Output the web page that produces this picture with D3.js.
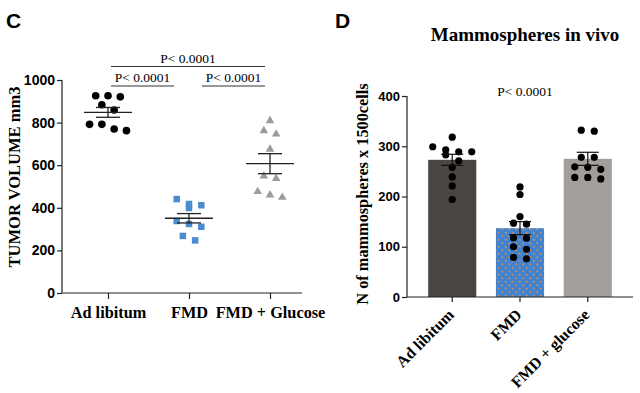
<!DOCTYPE html>
<meta charset="utf-8">
<style>
  body { margin: 0; background: #fff; }
  svg text { fill: #000; }
  .serif { font-family: "Liberation Serif", "DejaVu Serif", serif; }
  .sans { font-family: "Liberation Sans", Arial, sans-serif; }
</style>
<div id="viz_area"></div>
<script src="https://d3js.org/d3.v7.min.js"></script>
<script>
    // panel C data: tumor volume (mm3), one value per mouse
    var groupsC = ["Ad libitum", "FMD", "FMD + Glucose"];
    var adLibC = [926, 921, 926, 884, 859, 792, 792, 762, 770];
    var fmdC = [441, 399, 412, 418, 338, 324, 311, 268, 247];
    var glucC = [809, 746, 762, 675, 549, 538, 449, 476, 460];
    var semC = [23, 22, 47];
    var ticksC = [0, 200, 400, 600, 800, 1000];

    // panel D data: mammospheres per 1500 cells
    var groupsD = ["Ad libitum", "FMD", "FMD + glucose"];
    var barsD = [273, 137, 275];
    var semD = [11, 13, 13];
    var adLibD = [318, 289, 293, 299, 289, 271, 283, 258, 239, 221, 194];
    var fmdD = [219, 204, 160, 145, 147, 117, 118, 95, 100, 76, 79];
    var glucD = [330, 332, 278, 278, 259, 254, 258, 235, 238, 238];
    var ticksD = [0, 100, 200, 300, 400];

    var svg = d3.select("#viz_area").append("svg")
        .attr("width", 640).attr("height", 393);

    // pattern for the FMD bar: orange dots on blue
    var pat = svg.append("defs").append("pattern")
        .attr("id", "dots").attr("patternUnits", "userSpaceOnUse")
        .attr("width", 7).attr("height", 7);
    pat.append("rect").attr("width", 7).attr("height", 7).attr("fill", "#3f83d1");
    pat.append("circle").attr("cx", 1.75).attr("cy", 1.75).attr("r", 1.1).attr("fill", "#c98a5e");
    pat.append("circle").attr("cx", 5.25).attr("cy", 5.25).attr("r", 1.1).attr("fill", "#c98a5e");

    // GraphPad-like scatter: points of similar value share a row, centred
    function swarm(values, y, rowPx, step) {
        var sorted = values.slice().sort(function(a, b) { return b - a; });
        var rows = [], out = [];
        sorted.forEach(function(v) {
            var r = rows[rows.length - 1];
            if (r && Math.abs(y(r[0]) - y(v)) < rowPx) r.push(v);
            else rows.push([v]);
        });
        rows.forEach(function(r) {
            r.forEach(function(v, i) {
                out.push({v: v, dx: (i - (r.length - 1) / 2) * step});
            });
        });
        return out;
    }

    // ---------- panel C ----------
    var yC = d3.scaleLinear().domain([0, 1000]).range([293, 80]);
    var xC = d3.scalePoint().domain(groupsC).range([108, 270]);
    var gC = svg.append("g");

    gC.append("text").attr("class", "sans").attr("x", 6).attr("y", 28)
        .attr("font-size", 21).attr("font-weight", "bold").text("C");

    var axC = gC.append("g").attr("transform", "translate(62,0)")
        .call(d3.axisLeft(yC).tickValues(ticksC).tickFormat(d3.format("d")).tickSize(5).tickPadding(2));
    axC.select(".domain").attr("d", "M0," + yC(0) + "V" + yC(1000));
    axC.selectAll("text").attr("class", "sans").attr("font-size", 14).attr("font-weight", "bold");
    axC.selectAll("line, path").attr("stroke", "#222").attr("stroke-width", 1.2);

    var axCx = gC.append("g").attr("transform", "translate(0," + yC(0) + ")")
        .call(d3.axisBottom(xC).tickSize(6).tickPadding(7));
    axCx.select(".domain").attr("d", "M62,0H302");
    axCx.selectAll("text").attr("class", "serif").attr("font-size", 16.3).attr("font-weight", "bold");
    axCx.selectAll("line, path").attr("stroke", "#222").attr("stroke-width", 1.2);

    gC.append("text").attr("class", "serif")
        .attr("transform", "translate(20,177) rotate(-90)")
        .attr("text-anchor", "middle").attr("font-size", 16.5).attr("font-weight", "bold")
        .text("TUMOR VOLUME mm3");

    var seriesC = [
        {g: groupsC[0], vals: adLibC, sem: semC[0], color: "#000", shape: d3.symbolCircle, size: 46},
        {g: groupsC[1], vals: fmdC, sem: semC[1], color: "#4a8ccf", shape: d3.symbolSquare, size: 42},
        {g: groupsC[2], vals: glucC, sem: semC[2], color: "#9b9b9b", shape: d3.symbolTriangle, size: 32}
    ];
    seriesC.forEach(function(s) {
        var cx = xC(s.g);
        swarm(s.vals, yC, 6.5, 12.3).forEach(function(p) {
            gC.append("path").attr("d", d3.symbol().type(s.shape).size(s.size)())
                .attr("transform", "translate(" + (cx + p.dx) + "," + yC(p.v) + ")")
                .attr("fill", s.color);
        });
        var m = d3.mean(s.vals);
        var eb = gC.append("g").attr("stroke", "#222").attr("stroke-width", 1.3);
        eb.append("line").attr("x1", cx - 24).attr("x2", cx + 24).attr("y1", yC(m)).attr("y2", yC(m));
        eb.append("line").attr("x1", cx).attr("x2", cx).attr("y1", yC(m - s.sem)).attr("y2", yC(m + s.sem));
        [m - s.sem, m + s.sem].forEach(function(v) {
            eb.append("line").attr("x1", cx - 12).attr("x2", cx + 12).attr("y1", yC(v)).attr("y2", yC(v));
        });
    });

    // significance brackets
    var brackets = [
        {y: 66.5, x1: 111, x2: 265},
        {y: 86, x1: 111, x2: 174},
        {y: 86, x1: 202, x2: 265}
    ];
    brackets.forEach(function(b) {
        gC.append("line").attr("x1", b.x1).attr("x2", b.x2).attr("y1", b.y).attr("y2", b.y)
            .attr("stroke", "#333").attr("stroke-width", 1);
        gC.append("text").attr("class", "serif").attr("x", (b.x1 + b.x2) / 2).attr("y", b.y - 4)
            .attr("text-anchor", "middle").attr("font-size", 13.5).text("P< 0.0001");
    });

    // ---------- panel D ----------
    var yD = d3.scaleLinear().domain([0, 400]).range([297, 96]);
    var xD = d3.scaleBand().domain(groupsD).range([418, 622]).paddingInner(0.29).paddingOuter(0.15);
    var gD = svg.append("g");

    gD.append("text").attr("class", "sans").attr("x", 335).attr("y", 28)
        .attr("font-size", 21).attr("font-weight", "bold").text("D");

    gD.append("text").attr("class", "serif").attr("x", 525).attr("y", 41)
        .attr("text-anchor", "middle").attr("font-size", 19).attr("font-weight", "bold")
        .text("Mammospheres in vivo");

    gD.append("text").attr("class", "serif").attr("x", 525).attr("y", 96)
        .attr("text-anchor", "middle").attr("font-size", 13.5).text("P< 0.0001");

    var fills = ["#4b4542", "url(#dots)", "#a29e9b"];
    gD.selectAll("rect.bar").data(groupsD).enter().append("rect")
        .attr("class", "bar")
        .attr("x", function(d) { return xD(d); })
        .attr("width", xD.bandwidth())
        .attr("y", function(d, i) { return yD(barsD[i]); })
        .attr("height", function(d, i) { return yD(0) - yD(barsD[i]); })
        .attr("fill", function(d, i) { return fills[i]; });

    var ptsD = [adLibD, fmdD, glucD];
    groupsD.forEach(function(g, i) {
        var cx = xD(g) + xD.bandwidth() / 2;
        swarm(ptsD[i], yD, 6.5, 13).forEach(function(p) {
            gD.append("circle").attr("cx", cx + p.dx).attr("cy", yD(p.v)).attr("r", 3.6).attr("fill", "#000");
        });
        var eb = gD.append("g").attr("stroke", "#111").attr("stroke-width", 1.2);
        var lo = barsD[i] - semD[i], hi = barsD[i] + semD[i];
        eb.append("line").attr("x1", cx).attr("x2", cx).attr("y1", yD(lo)).attr("y2", yD(hi));
        [lo, hi].forEach(function(v) {
            eb.append("line").attr("x1", cx - 11).attr("x2", cx + 11).attr("y1", yD(v)).attr("y2", yD(v));
        });
    });

    var axD = gD.append("g").attr("transform", "translate(407,0)")
        .call(d3.axisLeft(yD).tickValues(ticksD).tickSize(5).tickPadding(2));
    axD.select(".domain").attr("d", "M0," + yD(0) + "V" + yD(400));
    axD.selectAll("text").attr("class", "sans").attr("font-size", 13).attr("font-weight", "bold");
    axD.selectAll("line, path").attr("stroke", "#222").attr("stroke-width", 1.2);

    var axDx = gD.append("g").attr("transform", "translate(0," + yD(0) + ")")
        .call(d3.axisBottom(xD).tickSize(5).tickPadding(6));
    axDx.select(".domain").attr("d", "M407,0H633");
    axDx.selectAll("line, path").attr("stroke", "#222").attr("stroke-width", 1.2);
    axDx.selectAll("text").attr("class", "serif").attr("font-size", 16).attr("font-weight", "bold")
        .attr("text-anchor", "end").attr("dy", "0.35em")
        .attr("transform", "translate(-9,7) rotate(-45)");

    gD.append("text").attr("class", "serif")
        .attr("transform", "translate(368,194) rotate(-90)")
        .attr("text-anchor", "middle").attr("font-size", 16.3).attr("font-weight", "bold")
        .text("N of mammospheres x 1500cells");
</script>
